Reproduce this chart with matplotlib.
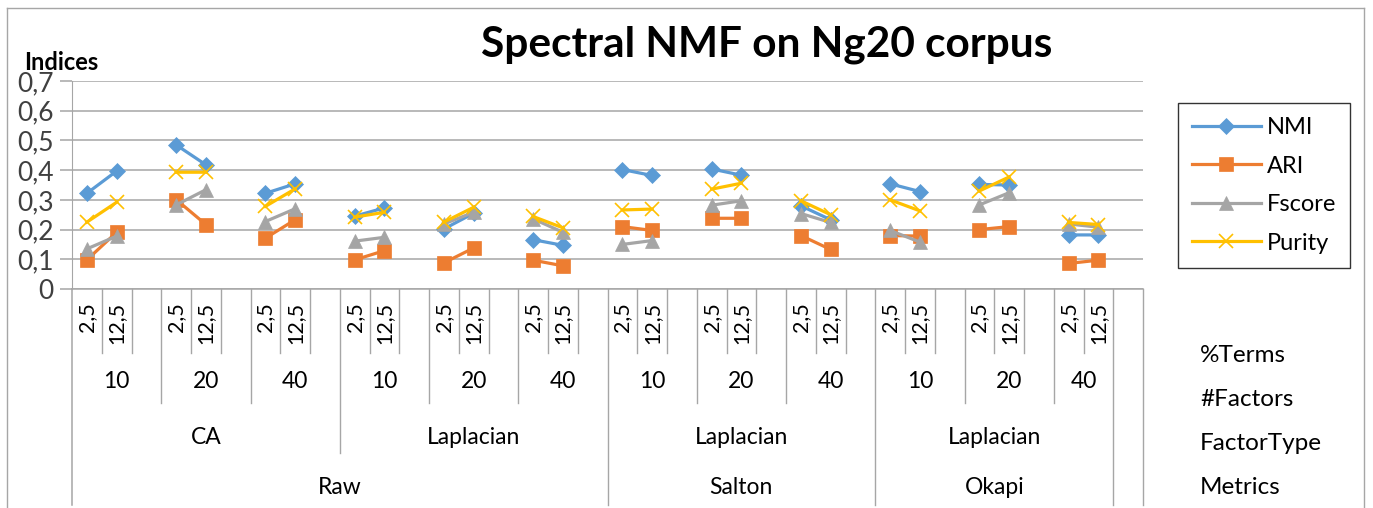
import numpy as np
import matplotlib.pyplot as plt
from matplotlib.lines import Line2D

plt.rcParams["font.family"] = ["Lato", "DejaVu Sans"]

# data: 12 groups (Metrics / FactorType / #Factors), two %Terms each
terms = ["2,5", "12,5"]
n_factors = ["10", "20", "40"] * 4
factor_types = ["CA", "Laplacian", "Laplacian", "Laplacian"]
metrics = ["Raw", "Salton", "Okapi"]
metric_groups = [6, 3, 3]  # number of #Factors groups per metric

nmi = [0.322, 0.397, 0.485, 0.418, 0.322, 0.354, 0.245, 0.273, 0.202, 0.255, 0.166, 0.147,
       0.402, 0.382, 0.404, 0.383, 0.280, 0.233, 0.354, 0.328, 0.352, 0.350, 0.182, 0.182]
ari = [0.098, 0.191, 0.301, 0.217, 0.171, 0.233, 0.098, 0.129, 0.088, 0.138, 0.097, 0.078,
       0.210, 0.197, 0.238, 0.238, 0.180, 0.133, 0.180, 0.178, 0.200, 0.210, 0.086, 0.097]
fscore = [0.135, 0.178, 0.283, 0.334, 0.227, 0.270, 0.161, 0.174, 0.219, 0.258, 0.236, 0.191,
          0.150, 0.163, 0.282, 0.297, 0.254, 0.224, 0.197, 0.158, 0.283, 0.324, 0.219, 0.208]
purity = [0.225, 0.292, 0.393, 0.393, 0.278, 0.337, 0.242, 0.258, 0.225, 0.275, 0.244, 0.206,
          0.266, 0.269, 0.336, 0.356, 0.297, 0.250, 0.300, 0.263, 0.330, 0.377, 0.224, 0.217]

series = [
    ("NMI", nmi, "#5B9BD5", "D", 8.5),
    ("ARI", ari, "#ED7D31", "s", 9.5),
    ("Fscore", fscore, "#A5A5A5", "^", 9.5),
    ("Purity", purity, "#FFC000", "x", 10),
]
y_ticks = [0, 0.1, 0.2, 0.3, 0.4, 0.5, 0.6, 0.7]
y_labels = ["0", "0,1", "0,2", "0,3", "0,4", "0,5", "0,6", "0,7"]
row_names = ["%Terms", "#Factors", "FactorType", "Metrics"]

W, H = 1373, 508
GRID = "#A6A6A6"
TXT = 16.5
fig = plt.figure(figsize=(W / 100, H / 100), dpi=100)
ax = fig.add_axes([72 / W, 1 - 289 / H, (1143 - 72) / W, 208 / H])

n_groups = len(n_factors)
n_slots = 3 * n_groups
ax.set_xlim(-0.5, n_slots - 0.5)
ax.set_ylim(0, 0.7)

# slot positions: each group uses two slots, followed by an empty one
handles = []
for name, vals, color, marker, ms in series:
    y = np.full(n_slots, np.nan)
    for g in range(n_groups):
        y[3 * g] = vals[2 * g]
        y[3 * g + 1] = vals[2 * g + 1]
    line, = ax.plot(np.arange(n_slots), y, color=color, lw=2.3, marker=marker,
                    ms=ms, mew=1.2 if marker == "x" else 0.5, mec=color, label=name,
                    clip_on=False, zorder=3)
    handles.append(line)

ax.set_yticks(y_ticks)
ax.set_yticklabels(y_labels, fontsize=19, color="#404040")
ax.set_xticks([])
ax.yaxis.grid(True, color=GRID, lw=1.1)
ax.set_axisbelow(True)
ax.tick_params(axis="y", length=9, color=GRID, width=1.1, pad=4)
for side in ["top", "right"]:
    ax.spines[side].set_visible(False)
ax.spines["left"].set_color(GRID)
ax.spines["bottom"].set_color(GRID)
ax.spines["bottom"].set_linewidth(1.1)

trans = ax.get_xaxis_transform()


def ay(py):
    return (289 - py) / 208


ax.plot([-0.5, -0.5], [0, ay(505)], color=GRID, lw=1.1, transform=trans, clip_on=False)

# category separators
level_bottom = [353, 403, 453, 505]
group_end = [3 * g + 2.5 for g in range(n_groups - 1)] + [3 * n_groups - 3 + 1.5]
ft_end = [group_end[3 * i + 2] for i in range(len(factor_types))]
m_end = list(np.cumsum(metric_groups) - 1)
metric_end = [group_end[i] for i in m_end]
depth = {}
for k in range(-1, n_slots):
    depth[k + 0.5] = 0
for b in group_end:
    depth[b] = 1
for b in ft_end:
    depth[b] = 2
for b in metric_end + [-0.5, n_slots - 0.5]:
    depth[b] = 3
for b, d in depth.items():
    if b == -0.5:
        continue
    ax.plot([b, b], [0, ay(level_bottom[d])], color=GRID, lw=1.0,
            transform=trans, clip_on=False)

# labels
for g in range(n_groups):
    for j, t in enumerate(terms):
        ax.text(3 * g + j, ay(302), t, rotation=90, ha="center", va="top",
                fontsize=15.5, transform=trans)
    start = 3 * g - 0.5
    end = group_end[g]
    ax.text((start + end) / 2, ay(381), n_factors[g], ha="center", va="center",
            fontsize=TXT, transform=trans)
for i, ft in enumerate(factor_types):
    start = -0.5 if i == 0 else ft_end[i - 1]
    ax.text((start + ft_end[i]) / 2, ay(437), ft, ha="center", va="center",
            fontsize=TXT, transform=trans)
for i, m in enumerate(metrics):
    start = -0.5 if i == 0 else metric_end[i - 1]
    ax.text((start + metric_end[i]) / 2, ay(487), m, ha="center", va="center",
            fontsize=TXT, transform=trans)

for name, py in zip(row_names, [355, 399, 443, 488]):
    fig.text(1200 / W, 1 - py / H, name, ha="left", va="center", fontsize=17.5)

fig.text(767 / W, 1 - 45 / H, "Spectral NMF on Ng20 corpus", ha="center", va="center",
         fontsize=30.5, fontweight="bold")
fig.text(24 / W, 1 - 62 / H, "Indices", ha="left", va="center", fontsize=17,
         fontweight="bold")

leg = fig.legend(handles=handles, loc="upper left", bbox_to_anchor=(1178 / W, 1 - 103 / H),
                 fontsize=17, frameon=True, fancybox=False, edgecolor="black",
                 handlelength=2.9, labelspacing=0.74, borderpad=0.6, handletextpad=0.25,
                 borderaxespad=0)
leg.get_frame().set_linewidth(1.0)

# chart border
for xs, ys in [([7, 7], [8, H]), ([7, 1364], [8, 8]), ([1364, 1364], [8, H])]:
    fig.add_artist(Line2D([x / W for x in xs], [1 - y / H for y in ys],
                          color="#A6A6A6", lw=1.0))

fig.savefig("out.png", dpi=100)
